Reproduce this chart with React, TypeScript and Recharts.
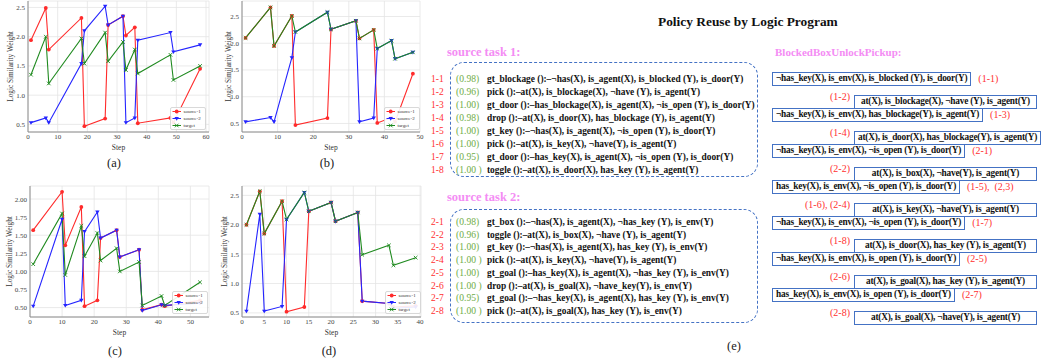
import React from 'react';
import { LineChart, Line, XAxis, YAxis, CartesianGrid, Legend, Label } from 'recharts';

const SERIF = '"Liberation Serif", "Times New Roman", Times, serif';

// ---------- chart data ----------
const stepsA = [1, 6, 7, 18, 19, 26, 27, 32, 33, 36, 37, 48, 49, 58];
const source1A = [1.94, 2.49, 1.78, 2.32, 0.47, 0.6, 2.2, 2.35, 2.02, 2.16, 0.52, 0.61, 0.53, 1.45];
const source2A = [0.53, 0.61, 0.53, 1.54, 2.1, 2.52, 2.2, 2.35, 0.53, 0.61, 1.94, 2.07, 1.74, 1.86];
const targetA = [1.35, 2.0, 1.2, 1.97, 1.54, 2.07, 1.58, 1.91, 1.43, 1.78, 1.37, 1.69, 1.26, 1.5];

const stepsB = [1, 8, 9, 14, 15, 24, 25, 32, 33, 37, 38, 42, 43, 48];
const source1B = [2.1, 2.67, 1.95, 2.51, 0.47, 0.6, 2.26, 2.42, 2.09, 2.25, 0.51, 0.61, 0.53, 1.43];
const source2B = [0.53, 0.61, 0.53, 1.73, 2.21, 2.58, 2.26, 2.42, 0.53, 0.6, 1.9, 2.05, 1.71, 1.83];
const targetB = [2.1, 2.67, 1.95, 2.51, 2.21, 2.58, 2.26, 2.42, 2.09, 2.25, 1.9, 2.05, 1.71, 1.83];

const stepsC = [1, 10, 11, 16, 17, 21, 22, 27, 28, 34, 35, 41, 42, 53];
const source1C = [1.57, 2.1, 1.36, 1.89, 0.52, 0.6, 1.46, 1.57, 1.2, 1.3, 0.47, 0.54, 0.52, 0.6];
const source2C = [0.52, 1.72, 0.53, 0.6, 1.55, 1.82, 1.46, 1.57, 1.2, 1.3, 0.46, 0.54, 0.53, 0.56];
const targetC = [1.1, 1.8, 0.95, 1.63, 1.21, 1.53, 1.15, 1.32, 1.0, 1.13, 0.53, 0.66, 0.53, 0.85];

const stepsD = [1, 4, 5, 9, 10, 14, 15, 20, 21, 26, 27, 33, 34, 39];
const source1D = [2.0, 2.57, 1.85, 2.4, 0.52, 0.6, 2.23, 2.38, 2.06, 2.21, 0.7, 0.66, 0.6, 0.62];
const source2D = [0.53, 2.18, 0.53, 0.61, 2.09, 2.55, 2.23, 2.38, 2.06, 2.21, 0.7, 0.66, 0.58, 0.6];
const targetD = [2.0, 2.57, 1.85, 2.4, 2.09, 2.55, 2.23, 2.38, 2.06, 2.21, 1.49, 1.65, 1.31, 1.44];

const seriesNames = ['source-1', 'source-2', 'target'];
const yAxisTitle = 'Logic Similarity Weight';
const xAxisTitle = 'Step';

// ---------- text panel data ----------
const panelTitle = 'Policy Reuse by Logic Program';
const source1Title = 'source task 1:';
const source2Title = 'source task 2:';
const targetTitle = 'BlockedBoxUnlockPickup:';
const source1Ids = ['1-1', '1-2', '1-3', '1-4', '1-5', '1-6', '1-7', '1-8'];
const source1Weights = ['0.98', '0.96', '1.00', '0.98', '1.00', '1.00', '0.95', '1.00 '];
const source1Rules = [
  'gt_blockage ():–¬has(X), is_agent(X), is_blocked (Y), is_door(Y)',
  'pick ():–at(X), is_blockage(X), ¬have (Y), is_agent(Y)',
  'gt_door ():–has_blockage(X), is_agent(X), ¬is_open (Y), is_door(Y)',
  'drop ():–at(X), is_door(X), has_blockage (Y), is_agent(Y)',
  'gt_key ():–¬has(X), is_agent(X), ¬is_open (Y), is_door(Y)',
  'pick ():–at(X), is_key(X), ¬have(Y), is_agent(Y)',
  'gt_door ():–has_key(X), is_agent(X), ¬is_open (Y), is_door(Y)',
  'toggle ():–at(X), is_door(X), has_key (Y), is_agent(Y)',
];
const source2Ids = ['2-1', '2-2', '2-3', '2-4', '2-5', '2-6', '2-7', '2-8'];
const source2Weights = ['0.98', '0.96', '1.00', '1.00 ', '1.00', '1.00 ', '0.95', '1.00 '];
const source2Rules = [
  'gt_box ():–¬has(X), is_agent(X), ¬has_key (Y), is_env(Y)',
  'toggle ():–at(X), is_box(X), ¬have (Y), is_agent(Y)',
  'gt_key ():–¬has(X), is_agent(X), has_key (Y), is_env(Y)',
  'pick ():–at(X), is_key(X), ¬have(Y), is_agent(Y)',
  'gt_goal ():–has_key(X), is_agent(X), ¬has_key (Y), is_env(Y)',
  'drop ():–at(X), is_goal(X), ¬have_key(Y), is_env(Y)',
  'gt_goal ():–¬has_key(X), is_agent(X), has_key (Y), is_env(Y)',
  'pick ():–at(X), is_goal(X), has_key (Y), is_env(Y)',
];
const targetRules = [
  '¬has_key(X), is_env(X), is_blocked (Y), is_door(Y)',
  'at(X), is_blockage(X), ¬have (Y), is_agent(Y)',
  '¬has_key(X), is_env(X), has_blockage(Y), is_agent(Y)',
  'at(X), is_door(X), has_blockage(Y), is_agent(Y)',
  '¬has_key(X), is_env(X), ¬is_open (Y), is_door(Y)',
  'at(X), is_box(X), ¬have(Y), is_agent(Y)',
  'has_key(X), is_env(X), ¬is_open (Y), is_door(Y)',
  'at(X), is_key(X), ¬have(Y), is_agent(Y)',
  '¬has_key(X), is_env(X), ¬is_open (Y), is_door(Y)',
  'at(X), is_door(X), has_key (Y), is_agent(Y)',
  '¬has_key(X), is_env(X), is_open (Y), is_door(Y)',
  'at(X), is_goal(X), has_key (Y), is_agent(Y)',
  'has_key(X), is_env(X), is_open (Y), is_door(Y)',
  'at(X), is_goal(X), ¬have(Y), is_agent(Y)',
];
const targetRefs = [
  '(1-1)', '(1-2)', '(1-3)', '(1-4)', '(2-1)', '(2-2)', '(1-5),  (2,3)',
  '(1-6), (2-4)', '(1-7)', '(1-8)', '(2-5)', '(2-6)', '(2-7)', '(2-8)',
];

// ---------- styles ----------
const COLORS = ['#ff2b2b', '#2424ff', '#1f8a1f'];
const SHAPES = ['circle', 'tri', 'x'];
const FRAME = '#8c8c8c';
const GRID = '#e4e4e4';
const PINK = '#f48cf4';
const RED = '#ff3030';
const GREEN = '#70ad47';
const BLUE_BOX = '#4472c4';

function Marker({ shape, cx, cy, color }: any) {
  if (cx == null || cy == null) return null;
  if (shape === 'circle') return <circle cx={cx} cy={cy} r={1.9} fill={color} />;
  if (shape === 'tri')
    return <path d={`M${cx - 2.2},${cy - 1.5} L${cx + 2.2},${cy - 1.5} L${cx},${cy + 2.2} Z`} fill={color} />;
  return (
    <g stroke={color} strokeWidth={0.9}>
      <line x1={cx - 1.8} y1={cy - 1.8} x2={cx + 1.8} y2={cy + 1.8} />
      <line x1={cx - 1.8} y1={cy + 1.8} x2={cx + 1.8} y2={cy - 1.8} />
    </g>
  );
}

const renderLegend = () => (
  <svg width={36} height={23} style={{ display: 'block' }}>
    <rect x={0.5} y={0.5} width={35} height={22} rx={1.5} fill="#fff" fillOpacity={0.9} stroke="#cfcfcf" strokeWidth={0.8} />
    {seriesNames.map((n, i) => (
      <g key={n}>
        <line x1={2.5} x2={11} y1={4.5 + i * 7} y2={4.5 + i * 7} stroke={COLORS[i]} strokeWidth={1} />
        <Marker shape={SHAPES[i]} cx={6.7} cy={4.5 + i * 7} color={COLORS[i]} />
        <text x={13.5} y={4.5 + i * 7} dy="0.35em" fontSize={5} fontFamily={SERIF} fill="#333">
          {n}
        </text>
      </g>
    ))}
  </svg>
);

function ChartPanel(props: any) {
  const {
    steps, s1, s2, tg, left, top, width, yAxisWidth, marginRight, xDomain, xTicks,
    yDomain, yTicks, yDigits, yLabelX, legendLeft, legendTop, caption, captionX, captionY,
  } = props;
  const data = steps.map((step: number, i: number) => ({ step, s1: s1[i], s2: s2[i], tg: tg[i] }));
  const keys = ['s1', 's2', 'tg'];
  const tickStyle = { fontSize: 7, fontFamily: SERIF, fill: '#444' };
  return (
    <>
      <div style={{ position: 'absolute', left, top }}>
        <LineChart width={width} height={152} data={data} margin={{ top: 1, right: marginRight, bottom: 0, left: 0 }}>
          <CartesianGrid stroke={GRID} strokeWidth={0.8} />
          <XAxis
            dataKey="step"
            type="number"
            domain={xDomain}
            ticks={xTicks}
            allowDataOverflow
            height={20}
            tickSize={0}
            tickMargin={2}
            tick={tickStyle}
            axisLine={{ stroke: FRAME, strokeWidth: 1 }}
          >
            <Label value={xAxisTitle} position="insideBottom" offset={2} style={{ fontSize: 7.5, fontFamily: SERIF, fill: '#333' }} />
          </XAxis>
          <XAxis xAxisId="top" orientation="top" type="number" domain={xDomain} allowDataOverflow height={0} tick={false} tickLine={false} axisLine={{ stroke: FRAME, strokeWidth: 1 }} />
          <YAxis
            type="number"
            domain={yDomain}
            ticks={yTicks}
            allowDataOverflow
            width={yAxisWidth}
            tickSize={0}
            tickMargin={3}
            tick={tickStyle}
            tickFormatter={(v: number) => v.toFixed(yDigits)}
            axisLine={{ stroke: FRAME, strokeWidth: 1 }}
          >
            <Label
              value={yAxisTitle}
              angle={-90}
              position="insideLeft"
              offset={yLabelX}
              style={{ fontSize: 7.3, fontFamily: SERIF, fill: '#333', textAnchor: 'middle' }}
            />
          </YAxis>
          <YAxis yAxisId="right" orientation="right" type="number" domain={[0, 1]} width={0} tick={false} tickLine={false} axisLine={{ stroke: FRAME, strokeWidth: 1 }} />
          {keys.map((k, i) => (
            <Line
              key={k}
              dataKey={k}
              name={seriesNames[i]}
              stroke={COLORS[i]}
              strokeWidth={1.1}
              isAnimationActive={false}
              dot={(p: any) => <Marker key={`${k}-${p.index}`} shape={SHAPES[i]} cx={p.cx} cy={p.cy} color={COLORS[i]} />}
              activeDot={false}
            />
          ))}
          <Legend
            layout="vertical"
            align="center"
            verticalAlign="middle"
            content={renderLegend}
            wrapperStyle={{ left: legendLeft, top: legendTop, width: 36, height: 23 }}
          />
        </LineChart>
      </div>
      <div
        style={{
          position: 'absolute', left: captionX - 20, width: 40, top: captionY - 8, lineHeight: '16px',
          textAlign: 'center', fontSize: 12.5, fontFamily: SERIF, color: '#222',
        }}
      >
        {caption}
      </div>
    </>
  );
}

function RuleBlock({ ids, weights, rules, y0, step }: any) {
  return (
    <>
      {rules.map((r: string, i: number) => {
        const y = y0 + i * step;
        return (
          <React.Fragment key={ids[i]}>
            <div style={{ position: 'absolute', left: 431, top: y - 6, lineHeight: '12px', fontSize: 9.5, color: RED, fontFamily: SERIF }}>
              {ids[i]}
            </div>
            <div style={{ position: 'absolute', left: 456, top: y - 6, lineHeight: '12px', fontSize: 9.6, color: GREEN, fontFamily: SERIF, whiteSpace: 'pre' }}>
              {`(${weights[i]})`}
            </div>
            <div style={{ position: 'absolute', left: 487, top: y - 6, lineHeight: '12px', fontSize: 9.4, fontWeight: 700, color: '#111', fontFamily: SERIF, whiteSpace: 'pre' }}>
              {r}
            </div>
          </React.Fragment>
        );
      })}
    </>
  );
}

function TargetBlock() {
  return (
    <>
      {targetRules.map((r, i) => {
        const y = 78.7 + i * 18;
        const leftSide = i % 2 === 0;
        const box = (
          <div
            style={{
              border: `1.2px solid ${BLUE_BOX}`, boxSizing: 'border-box', height: 14, lineHeight: '11.6px',
              padding: '0 3px', fontSize: 9.3, fontWeight: 700, color: '#111', whiteSpace: 'pre',
              letterSpacing: '-0.2px', textAlign: 'center', minWidth: leftSide ? 0 : 183, display: 'inline-block',
            }}
          >
            {r}
          </div>
        );
        if (leftSide) {
          return (
            <div key={i} style={{ position: 'absolute', left: 772, top: y - 7, display: 'flex', alignItems: 'center', fontFamily: SERIF }}>
              {box}
              <span style={{ marginLeft: 7, fontSize: 10, color: RED, whiteSpace: 'pre', lineHeight: '12px' }}>{targetRefs[i]}</span>
            </div>
          );
        }
        return (
          <React.Fragment key={i}>
            <div style={{ position: 'absolute', right: 1043 - 850, top: y - 6, fontSize: 10, color: RED, whiteSpace: 'pre', lineHeight: '12px', fontFamily: SERIF, textAlign: 'right' }}>
              {targetRefs[i]}
            </div>
            <div style={{ position: 'absolute', left: 854, top: y - 7, fontFamily: SERIF }}>{box}</div>
          </React.Fragment>
        );
      })}
    </>
  );
}

export default function App() {
  return (
    <div style={{ position: 'absolute', left: 0, top: 0, width: 1043, height: 360, background: '#fff', overflow: 'hidden', fontFamily: SERIF }}>
      <ChartPanel
        steps={stepsA} s1={source1A} s2={source2A} tg={targetA}
        left={0} top={0} width={215} yAxisWidth={28} marginRight={6}
        xDomain={[0, 61]} xTicks={[0, 10, 20, 30, 40, 50, 60]}
        yDomain={[0.37, 2.61]} yTicks={[0.5, 1.0, 1.5, 2.0, 2.5]} yDigits={1} yLabelX={10}
        legendLeft={170} legendTop={107} caption="(a)" captionX={114} captionY={163}
      />
      <ChartPanel
        steps={stepsB} s1={source1B} s2={source2B} tg={targetB}
        left={214} top={0} width={210} yAxisWidth={28} marginRight={4}
        xDomain={[0, 50]} xTicks={[0, 10, 20, 30, 40, 50]}
        yDomain={[0.34, 2.79]} yTicks={[0.5, 1.0, 1.5, 2.0, 2.5]} yDigits={1} yLabelX={14}
        legendLeft={170} legendTop={107} caption="(b)" captionX={327} captionY={163}
      />
      <ChartPanel
        steps={stepsC} s1={source1C} s2={source2C} tg={targetC}
        left={0} top={185} width={215} yAxisWidth={30} marginRight={6}
        xDomain={[0, 55.8]} xTicks={[0, 10, 20, 30, 40, 50]}
        yDomain={[0.37, 2.18]} yTicks={[0.5, 0.75, 1.0, 1.25, 1.5, 1.75, 2.0]} yDigits={2} yLabelX={9}
        legendLeft={172} legendTop={106} caption="(c)" captionX={115} captionY={351}
      />
      <ChartPanel
        steps={stepsD} s1={source1D} s2={source2D} tg={targetD}
        left={214} top={185} width={211} yAxisWidth={28} marginRight={4}
        xDomain={[0, 40.2]} xTicks={[0, 5, 10, 15, 20, 25, 30, 35, 40]}
        yDomain={[0.43, 2.66]} yTicks={[0.5, 1.0, 1.5, 2.0, 2.5]} yDigits={1} yLabelX={10}
        legendLeft={171} legendTop={106} caption="(d)" captionX={329} captionY={351}
      />

      <div style={{ position: 'absolute', left: 658, top: 13, lineHeight: '18px', fontSize: 13.4, fontWeight: 700, color: '#111', whiteSpace: 'pre' }}>
        {panelTitle}
      </div>
      <div style={{ position: 'absolute', left: 447, top: 44, lineHeight: '16px', fontSize: 12.5, fontWeight: 700, color: PINK, whiteSpace: 'pre' }}>
        {source1Title}
      </div>
      <div style={{ position: 'absolute', left: 447, top: 189, lineHeight: '16px', fontSize: 12.5, fontWeight: 700, color: PINK, whiteSpace: 'pre' }}>
        {source2Title}
      </div>
      <div style={{ position: 'absolute', left: 450, top: 62, width: 308, height: 115, boxSizing: 'border-box', border: `1.2px dashed ${BLUE_BOX}`, borderRadius: 14 }} />
      <div style={{ position: 'absolute', left: 450, top: 209, width: 308, height: 114, boxSizing: 'border-box', border: `1.2px dashed ${BLUE_BOX}`, borderRadius: 14 }} />
      <RuleBlock ids={source1Ids} weights={source1Weights} rules={source1Rules} y0={79} step={13} />
      <RuleBlock ids={source2Ids} weights={source2Weights} rules={source2Rules} y0={222} step={12.7} />

      <div style={{ position: 'absolute', left: 775, top: 44, lineHeight: '16px', fontSize: 11, fontWeight: 700, color: PINK, whiteSpace: 'pre' }}>
        {targetTitle}
      </div>
      <TargetBlock />
      <div style={{ position: 'absolute', left: 727, top: 338, lineHeight: '16px', fontSize: 12.5, color: '#222' }}>(e)</div>
    </div>
  );
}
